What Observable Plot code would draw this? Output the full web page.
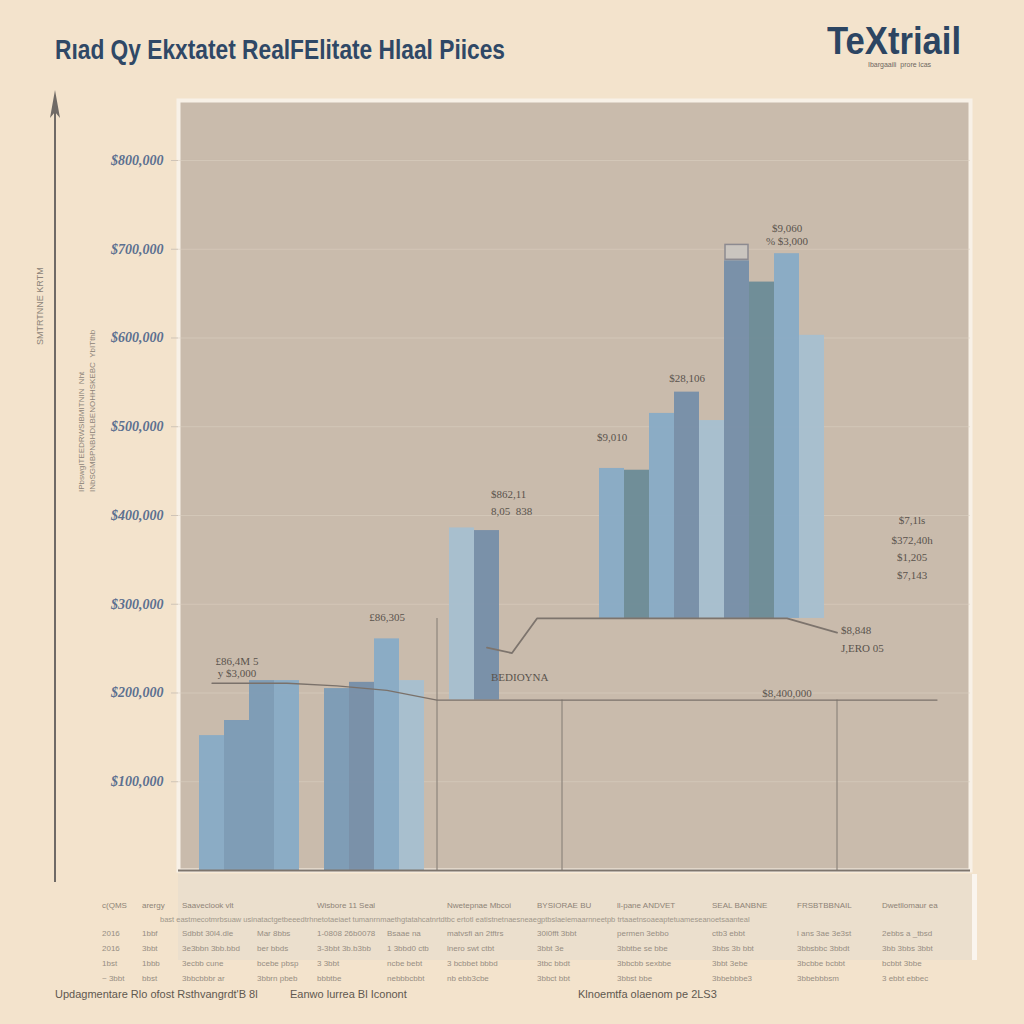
<!DOCTYPE html>
<html><head><meta charset="utf-8">
<script src="https://cdn.jsdelivr.net/npm/d3@7"></script>
<script src="https://cdn.jsdelivr.net/npm/@observablehq/plot@0.6"></script>
<style>
html,body{margin:0;padding:0;background:#f3e3cc;}
#page{position:relative;width:1024px;height:1024px;overflow:hidden;background:#f3e3cc;font-family:"Liberation Sans",Arial,sans-serif;}
#title{position:absolute;left:55px;top:36px;font-size:28px;font-weight:bold;color:#2f4866;white-space:nowrap;transform-origin:0 0;line-height:1;}
#logo{position:absolute;left:827px;top:22px;font-size:38px;font-weight:bold;color:#2c4562;white-space:nowrap;transform-origin:0 0;line-height:1;}
#logosub{position:absolute;left:868px;top:61px;font-size:7px;color:#6d665e;white-space:nowrap;}
#under{position:absolute;left:178px;top:874px;width:794px;height:86px;background:#ebdfcd;border-right:5px solid #faf5ee;}
#chart{position:absolute;left:0;top:0;}
#arrow{position:absolute;left:0;top:0;}
.rot{position:absolute;transform:rotate(-90deg);transform-origin:0 0;white-space:nowrap;color:#8d8479;}
#table{position:absolute;left:100px;top:898px;width:870px;border-collapse:collapse;font-size:8px;color:#978e83;table-layout:fixed;}
#table td{padding:0 2px;white-space:nowrap;overflow:hidden;}
.foot{position:absolute;top:988px;font-size:11px;color:#5f584f;white-space:nowrap;}
</style></head>
<body><div id="page">
<div id="under"></div>
<svg id="arrow" width="120" height="900">
  <line x1="55" y1="104" x2="55" y2="882" stroke="#6f6a66" stroke-width="2"/>
  <path d="M55 90 L50 118 L55 112 L60 118 Z" fill="#6f6a66"/>
</svg>
<div id="title">Rıad Qy Ekxtatet RealFElitate Hlaal Piices</div>
<div id="logo">TeXtriail</div>
<div id="logosub">Ibargaaili &nbsp;prore lcas</div>
<div class="rot" style="left:35px;top:345px;font-size:9px;">SMTRTNNE KRTM</div>
<div class="rot" style="left:76px;top:492px;font-size:8px;line-height:11px;">IPbswgITEEDRWSIBMITNIN &nbsp;Nht<br>INbSGMBPNBHDLBENOHHSKEBC &nbsp;YbITthb</div>
<div id="chartwrap"></div>
<table id="table"></table>
<div class="foot" style="left:55px;">Updagmentare Rlo ofost Rsthvangrdt'B 8l</div>
<div class="foot" style="left:290px;">Eanwo lurrea Bl Iconont</div>
<div class="foot" style="left:578px;">Klnoemtfa olaenom pe 2LS3</div>
</div>
<script>
// ---------- data ----------
const periods = ["2016 Q1","2016 Q2","2016 Q3","2016 Q4","2017 Q1","2017 Q2","2017 Q3","2017 Q4",
  "2018 Q1","2018 Q2","2018 Q3","2018 Q4","2019 Q1","2019 Q2","2019 Q3","2019 Q4",
  "2020 Q1","2020 Q2","2020 Q3","2020 Q4","2021 Q1","2021 Q2","2021 Q3","2021 Q4",
  "2022 Q1","2022 Q2","2022 Q3","2022 Q4","2023 Q1","2023 Q2"];

const typeNames  = ["Condo","Townhouse","Single-family","Duplex","Multi-family"];
const typeColors = ["#a7bfd0","#88abc6","#7b9bb6","#768ea9","#6b8b97"];

const barPeriods = ["2016 Q1","2016 Q2","2016 Q3","2016 Q4","2017 Q2","2017 Q3","2017 Q4","2018 Q1",
  "2018 Q3","2018 Q4","2020 Q1","2020 Q2","2020 Q3","2020 Q4","2021 Q1","2021 Q2","2021 Q3","2021 Q4","2022 Q1"];
const barTypes = ["Townhouse","Single-family","Single-family","Townhouse","Single-family","Duplex","Townhouse","Condo",
  "Condo","Duplex","Townhouse","Multi-family","Townhouse","Duplex","Condo","Duplex","Multi-family","Townhouse","Condo"];
const lowPrices  = [0,0,0,0,0,0,0,0,192000,192000,284000,284000,284000,284000,284000,284000,284000,284000,284000];
const highPrices = [152000,169000,214000,214000,205000,212000,261000,214000,386000,383000,
  453000,451000,515000,539000,507000,687000,663000,695000,603000];

const peakPeriods = ["2021 Q2"];
const peakLow = [687000];
const peakHigh = [706000];

const trendPeriods = ["2016 Q1","2016 Q4","2017 Q2","2017 Q4","2018 Q2","2023 Q2"];
const trendValues  = [211000,211000,208000,203000,192000,192000];

const stepPeriods = ["2018 Q4","2019 Q1","2019 Q2","2021 Q4","2022 Q2"];
const stepValues  = [251000,245000,284000,284000,268000];

const dividerPeriods = ["2018 Q2","2019 Q3","2022 Q2"];
const dividerTops    = [284000,192000,192000];

const yTicks = [100000,200000,300000,400000,500000,600000,700000,800000];

const notePeriods = ["2016 Q2","2016 Q2","2017 Q4","2018 Q4","2018 Q4","2020 Q1","2020 Q4","2021 Q4","2021 Q4",
  "2023 Q1","2023 Q1","2023 Q1","2023 Q1","2022 Q2","2022 Q2","2021 Q4","2018 Q4"];
const noteValues  = [235000,222000,285000,424000,405000,488000,554000,723000,709000,
  394000,372000,353000,332000,270000,250000,200000,217000];
const noteTexts   = ["£86,4M 5","y $3,000","£86,305","$862,11","8,05  838","$9,010","$28,106","$9,060","% $3,000",
  "$7,1ls","$372,40h","$1,205","$7,143","$8,848","J,ERO 05","$8,400,000","BEDIOYNA"];
const noteAnchor  = ["middle","middle","middle","start","start","middle","middle","middle","middle",
  "middle","middle","middle","middle","start","start","middle","start"];

// ---------- build ----------
const bars = barPeriods.map((p,i)=>({period:p, type:barTypes[i], low:lowPrices[i], high:highPrices[i]}));
const peaks = peakPeriods.map((p,i)=>({period:p, low:peakLow[i], high:peakHigh[i]}));
const trend = trendPeriods.map((p,i)=>({period:p, value:trendValues[i]}));
const step = stepPeriods.map((p,i)=>({period:p, value:stepValues[i]}));
const dividers = dividerPeriods.map((p,i)=>({period:p, top:dividerTops[i]}));
const notes = notePeriods.map((p,i)=>({period:p, value:noteValues[i], text:noteTexts[i], anchor:noteAnchor[i]}));

const chart = Plot.plot({
  width:1024, height:890,
  marginLeft:178, marginRight:54, marginTop:100, marginBottom:20,
  style:{background:"transparent", overflow:"visible"},
  x:{type:"band", domain:periods, paddingInner:0, paddingOuter:0.67, axis:null},
  y:{domain:[0,867600], axis:null},
  color:{domain:typeNames, range:typeColors},
  marks:[
    Plot.frame({fill:"#c9bbac", stroke:"#f8f1e7", strokeWidth:4}),
    Plot.gridY(yTicks, {stroke:"#ddd1c3", strokeOpacity:0.55}),
    Plot.axisY(yTicks, {tickFormat:d=>"$"+d3.format(",")(d), tickSize:7, tickPadding:8,
      fontSize:14, fontWeight:"bold", fontStyle:"italic", fontFamily:"Liberation Serif, serif",
      fill:"#5c7090", stroke:"#cfc4b8"}),
    Plot.ruleX(dividers, {x:"period", y1:0, y2:"top", stroke:"#8e857c", strokeWidth:1.2}),
    Plot.barY(bars, {x:"period", y1:"low", y2:"high", fill:"type", fillOpacity:0.95}),
    Plot.barY(peaks, {x:"period", y1:"low", y2:"high", fill:"#cac5bf", stroke:"#8c8a90", strokeWidth:1.5, inset:1}),
    Plot.line(trend, {x:"period", y:"value", stroke:"#7a716a", strokeWidth:1.3}),
    Plot.line(step, {x:"period", y:"value", stroke:"#7d746d", strokeWidth:1.8}),
    Plot.ruleY([0], {stroke:"#7d756d", strokeWidth:2}),
    Plot.text(notes.filter(d=>d.anchor==="middle"), {x:"period", y:"value", text:"text", textAnchor:"middle",
      fontSize:11, fontFamily:"Liberation Serif, serif", fill:"#5a534d"}),
    Plot.text(notes.filter(d=>d.anchor==="start"), {x:"period", y:"value", text:"text", textAnchor:"start", dx:4,
      fontSize:11, fontFamily:"Liberation Serif, serif", fill:"#5a534d"})
  ]
});
chart.id = "chart";
document.getElementById("chartwrap").appendChild(chart);

// ---------- table ----------
const colWidths = [40,40,75,60,70,60,90,80,95,85,85,90];
const tableHeader = ["c(QMS","arergy","Saaveclook vlt","","Wisbore 11 Seal","","Nwetepnae Mbcoi","BYSIORAE BU","ll-pane ANDVET","SEAL BANBNE","FRSBTBBNAIL","Dwetllomaur ea"];
const tableDense = "bast  eastmecotmrbsuaw usinatactgetbeeedtrhnetotaeiaet tumanrnmaethgtatahcatnrtdtbc ertotl eatistnetnaesneaegptbslaeiemaarnneetpb trtaaetnsoaeaptetuameseanoetsaanteal";
const tableRows = [
  ["2016","1bbf","Sdbbt 30l4.dle","Mar 8bbs","1-0808 26b0078","Bsaae na","matvsfi an 2tftrs","30l0fft  3bbt","permen 3ebbo","ctb3 ebbt","l ans 3ae 3e3st","2ebbs a _tbsd"],
  ["2016","3bbt","3e3bbn 3bb.bbd","ber bbds","3-3bbt 3b.b3bb","1 3bbd0 ctb","lnero swt ctbt","3bbt 3e","3bbtbe se bbe","3bbs 3b bbt","3bbsbbc 3bbdt","3bb 3bbs 3bbt"],
  ["1bst","1bbb","3ecbb cune","bcebe pbsp","3 3bbt","ncbe bebt","3 bcbbet bbbd","3tbc bbdt","3bbcbb sexbbe","3bbt 3ebe","3bcbbe bcbbt","bcbbt 3bbe"],
  ["~ 3bbt","bbst","3bbcbbbr ar","3bbrn pbeb","bbbtbe","nebbbcbbt","nb ebb3cbe","3bbct bbt","3bbst bbe","3bbebbbe3","3bbebbbsm","3 ebbt ebbec"]
];
const tbl = document.getElementById("table");
const cg = document.createElement("colgroup");
colWidths.forEach(w=>{const c=document.createElement("col"); c.style.width=w+"px"; cg.appendChild(c);});
tbl.appendChild(cg);
function addRow(cells, h, color){
  const tr=document.createElement("tr"); tr.style.height=h+"px";
  cells.forEach(t=>{const td=document.createElement("td"); td.textContent=t; if(color) td.style.color=color; tr.appendChild(td);});
  tbl.appendChild(tr);
}
addRow(tableHeader, 14, "#8e8377");
{ const tr=document.createElement("tr"); tr.style.height="14px";
  const td=document.createElement("td"); td.colSpan=12; td.textContent=tableDense; td.style.paddingLeft="60px"; td.style.color="#a0978b"; td.style.fontSize="7.5px";
  tr.appendChild(td); tbl.appendChild(tr); }
tableRows.forEach(r=>addRow(r, 15, null));

// fit title & logo widths to reference
function fit(id, w){const el=document.getElementById(id); const s=w/el.scrollWidth; el.style.transform=`scaleX(${s})`;}
fit("title", 450);
fit("logo", 134);
</script>
</body></html>
